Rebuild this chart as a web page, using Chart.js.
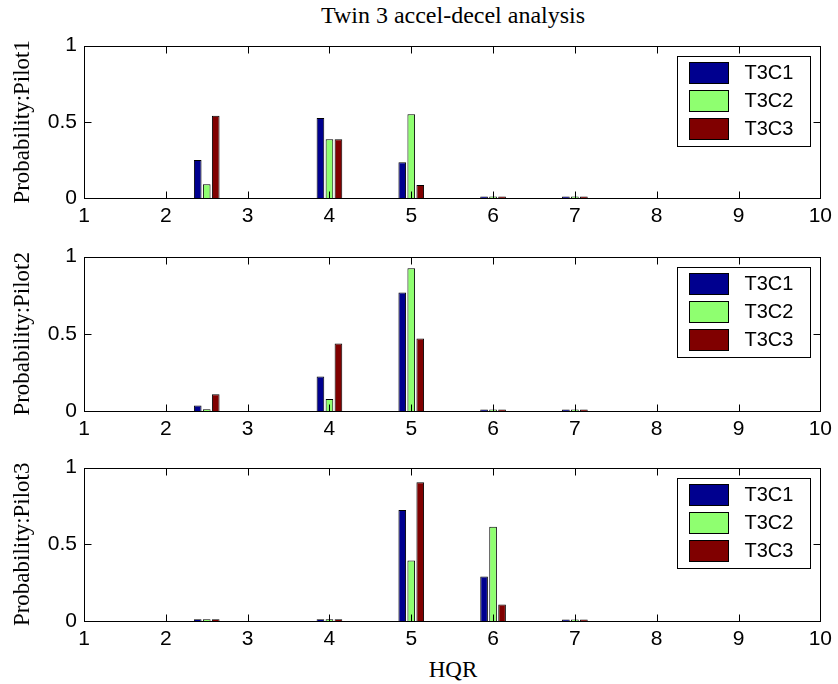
<!DOCTYPE html>
<html>
<head>
<meta charset="utf-8">
<title>Twin 3 accel-decel analysis</title>
<script src="https://cdn.jsdelivr.net/npm/chart.js@4.4.1/dist/chart.umd.min.js"></script>
<style>
  body { margin: 0; background: #fff; }
  #page { position: relative; width: 838px; height: 684px; overflow: hidden; background: #fff; }
  .plot { position: absolute; left: 0; width: 838px; }
  .label { position: absolute; left: 84px; width: 738px; text-align: center; font-family: "Liberation Serif", serif; color: #000; line-height: 24px; }
  #title { top: 3px; font-size: 24px; }
  #xlabel { top: 658px; font-size: 23px; }
</style>
</head>
<body>
<div id="page">
  <div id="title" class="label">Twin 3 accel-decel analysis</div>
  <div class="plot" style="top:26px;height:204px"><canvas id="pilot1Chart"></canvas></div>
  <div class="plot" style="top:237px;height:206px"><canvas id="pilot2Chart"></canvas></div>
  <div class="plot" style="top:448px;height:205px"><canvas id="pilot3Chart"></canvas></div>
  <div id="xlabel" class="label">HQR</div>
</div>
<script>
// HQR ratings where bars are drawn
const hqrValues = [2, 2.5, 4, 5, 6, 7, 8];
const seriesNames = ["T3C1", "T3C2", "T3C3"];
const seriesColors = ["#00008f", "#8fff70", "#800000"];

// Pilot 1
const pilot1T3C1 = [0, 0.25, 0.525, 0.235, 0.01, 0.01, 0];
const pilot1T3C2 = [0, 0.09, 0.385, 0.55, 0.01, 0.01, 0];
const pilot1T3C3 = [0, 0.54, 0.385, 0.085, 0.01, 0.01, 0];

// Pilot 2
const pilot2T3C1 = [0, 0.036, 0.223, 0.767, 0.01, 0.01, 0];
const pilot2T3C2 = [0, 0.012, 0.078, 0.925, 0.01, 0.01, 0];
const pilot2T3C3 = [0, 0.109, 0.437, 0.469, 0.01, 0.01, 0];

// Pilot 3
const pilot3T3C1 = [0, 0.012, 0.012, 0.724, 0.29, 0.01, 0];
const pilot3T3C2 = [0, 0.012, 0.012, 0.395, 0.614, 0.01, 0];
const pilot3T3C3 = [0, 0.012, 0.012, 0.904, 0.108, 0.01, 0];

const tickLen = 7;

// Box, inward ticks and legend the MATLAB way
const matlabAxes = {
    id: "matlabAxes",
    afterDatasetsDraw(chart) {
        const { ctx, chartArea: a, scales: { x, y } } = chart;
        const left = Math.round(a.left) + 0.5, right = Math.round(a.right) + 0.5;
        const top = Math.round(a.top) + 0.5, bottom = Math.round(a.bottom) + 0.5;
        ctx.save();
        ctx.strokeStyle = "#000";
        ctx.lineWidth = 1;
        ctx.beginPath();
        x.ticks.forEach(t => {
            const px = Math.round(x.getPixelForValue(t.value)) + 0.5;
            ctx.moveTo(px, bottom); ctx.lineTo(px, bottom - tickLen);
            ctx.moveTo(px, top); ctx.lineTo(px, top + tickLen);
        });
        y.ticks.forEach(t => {
            const py = Math.round(y.getPixelForValue(t.value)) + 0.5;
            ctx.moveTo(left, py); ctx.lineTo(left + tickLen, py);
            ctx.moveTo(right, py); ctx.lineTo(right - tickLen, py);
        });
        ctx.stroke();
        ctx.strokeRect(left, top, right - left, bottom - top);

        // legend box
        const boxW = 133, boxH = 90;
        const bx = Math.round(a.right) - 10 - boxW + 0.5, by = Math.round(a.top) + 10 + 0.5;
        ctx.fillStyle = "#fff";
        ctx.fillRect(bx, by, boxW, boxH);
        ctx.strokeRect(bx, by, boxW, boxH);
        ctx.font = "20px 'Liberation Sans', Arial, sans-serif";
        ctx.textBaseline = "middle";
        chart.data.datasets.forEach((ds, i) => {
            const sy = by + 6 + i * 28;
            ctx.fillStyle = ds.backgroundColor;
            ctx.fillRect(bx + 12, sy, 39, 21);
            ctx.strokeRect(bx + 12, sy, 39, 21);
            ctx.fillStyle = "#000";
            ctx.fillText(ds.label, bx + 67, sy + 11);
        });
        ctx.restore();
    }
};

function createChart(chartId, yLabel, series) {
    const ctx = document.getElementById(chartId).getContext("2d");
    return new Chart(ctx, {
        type: "bar",
        data: {
            datasets: series.map((values, i) => ({
                label: seriesNames[i],
                data: hqrValues.map((h, j) => ({ x: h, y: values[j] })),
                backgroundColor: seriesColors[i],
                borderColor: "#000",
                borderWidth: 1,
                categoryPercentage: 0.66,
                barPercentage: 0.85
            }))
        },
        options: {
            responsive: true,
            maintainAspectRatio: false,
            animation: false,
            events: [],
            layout: { padding: { top: 14, right: 16, left: 0, bottom: 0 } },
            plugins: {
                legend: { display: false },
                tooltip: { enabled: false }
            },
            scales: {
                x: {
                    type: "linear",
                    offset: false,
                    min: 1,
                    max: 10,
                    grid: { display: false, drawTicks: false, tickLength: 0 },
                    border: { display: false },
                    ticks: {
                        stepSize: 1,
                        padding: 6,
                        color: "#000",
                        font: { family: "'Liberation Sans', Arial, sans-serif", size: 21 }
                    },
                    afterFit(scale) { scale.height = 32; }
                },
                y: {
                    min: 0,
                    max: 1,
                    grid: { display: false, drawTicks: false, tickLength: 0 },
                    border: { display: false },
                    ticks: {
                        stepSize: 0.5,
                        padding: 7,
                        color: "#000",
                        font: { family: "'Liberation Sans', Arial, sans-serif", size: 21 },
                        callback: value => String(value)
                    },
                    title: {
                        display: true,
                        text: yLabel,
                        color: "#000",
                        padding: { top: 9, bottom: 0 },
                        font: { family: "'Liberation Serif', 'Times New Roman', serif", size: 23 }
                    },
                    afterFit(scale) { scale.width = 84; }
                }
            }
        },
        plugins: [matlabAxes]
    });
}

createChart("pilot1Chart", "Probability:Pilot1", [pilot1T3C1, pilot1T3C2, pilot1T3C3]);
createChart("pilot2Chart", "Probability:Pilot2", [pilot2T3C1, pilot2T3C2, pilot2T3C3]);
createChart("pilot3Chart", "Probability:Pilot3", [pilot3T3C1, pilot3T3C2, pilot3T3C3]);
</script>
</body>
</html>
